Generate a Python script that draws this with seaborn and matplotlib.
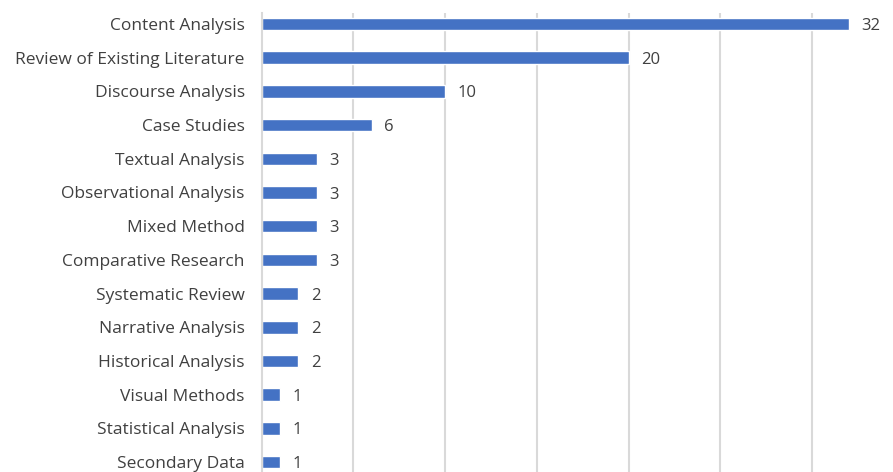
import matplotlib
matplotlib.use("Agg")
import matplotlib.pyplot as plt
import seaborn as sns
import pandas as pd

methods = [
    "Content Analysis",
    "Review of Existing Literature",
    "Discourse Analysis",
    "Case Studies",
    "Textual Analysis",
    "Observational Analysis",
    "Mixed Method",
    "Comparative Research",
    "Systematic Review",
    "Narrative Analysis",
    "Historical Analysis",
    "Visual Methods",
    "Statistical Analysis",
    "Secondary Data",
]
counts = [32, 20, 10, 6, 3, 3, 3, 3, 2, 2, 2, 1, 1, 1]

df = pd.DataFrame({"method": methods, "count": counts})

sns.set_theme(style="white")
plt.rcParams["font.family"] = ["Open Sans", "DejaVu Sans"]

W, H = 893, 472
fig = plt.figure(figsize=(W / 100, H / 100), dpi=100)
# plot area runs off the right and bottom edges of the canvas
left_px, top_px = 261.5, 13
ax = fig.add_axes([left_px / W, 0, (W - left_px) / W, (H - top_px) / H])

sns.barplot(data=df, x="count", y="method", color="#4472C4", saturation=1,
            width=0.37, orient="h", ax=ax)

ax.set_xlim(0, (W - left_px) / 18.35)
ax.set_ylim((H - 24) / 33.7, (top_px - 24) / 33.7)
ax.set_xticks([5, 10, 15, 20, 25, 30])
ax.set_xticklabels([])
ax.xaxis.grid(True, color="#D9D9D9", linewidth=1.5)
ax.set_axisbelow(True)
ax.set_xlabel("")
ax.set_ylabel("")
for s in ["top", "right", "bottom"]:
    ax.spines[s].set_visible(False)
ax.spines["left"].set_color("#D9D9D9")
ax.spines["left"].set_linewidth(1.5)
ax.tick_params(axis="y", length=0, pad=12, labelsize=12.5, labelcolor="#404040")
ax.tick_params(axis="x", length=0)

for t in ax.bar_label(ax.containers[0], padding=9, fontsize=12, color="#404040"):
    x, y = t.xy
    t.xy = (x, y + 0.06)

fig.savefig("out.png", dpi=100)
